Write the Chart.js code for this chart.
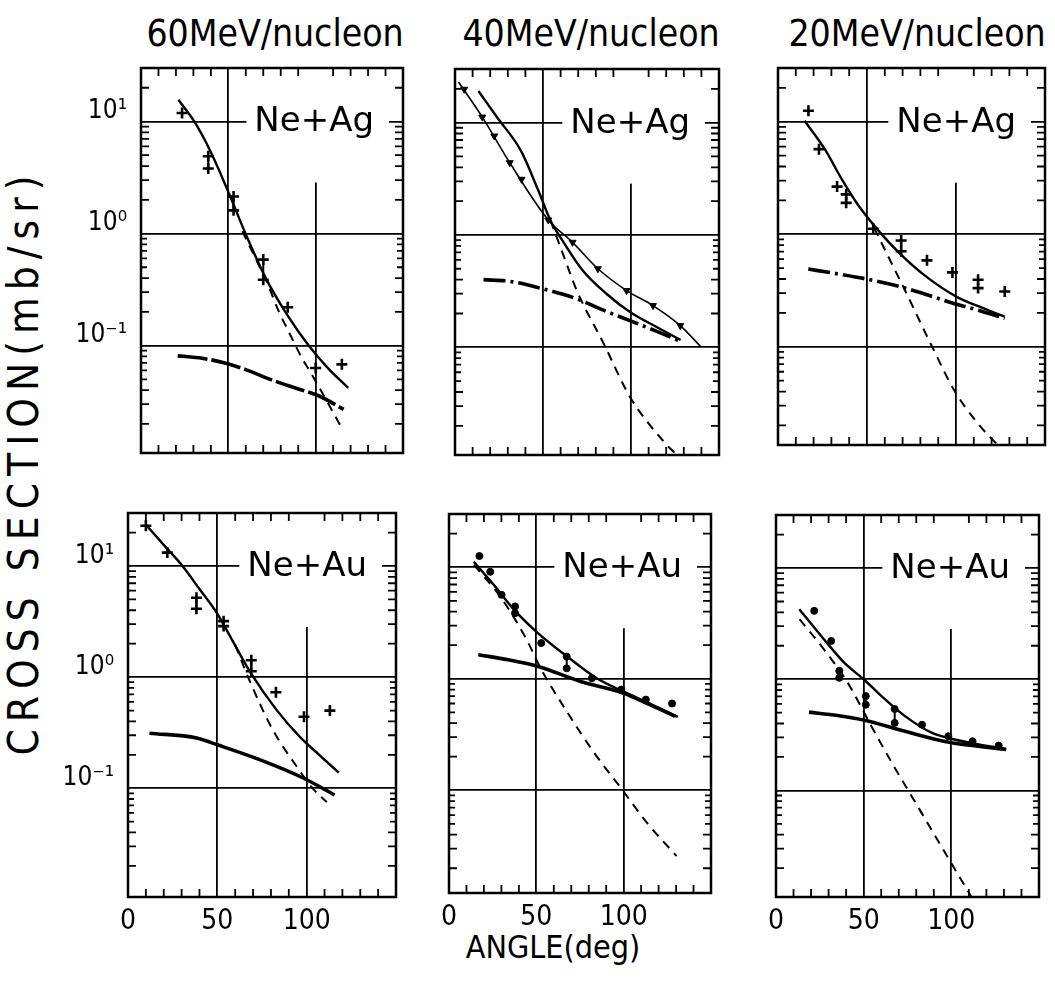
<!DOCTYPE html>
<html>
<head>
<meta charset="utf-8">
<script src="https://cdn.jsdelivr.net/npm/chart.js@4.4.1/dist/chart.umd.min.js"></script>
<style>
  body { margin: 0; background: #fff; }
  #wrap { position: relative; width: 1055px; height: 981px; overflow: hidden; background: #fff; }
  .txt { position: absolute; font-family: "DejaVu Sans Condensed", "DejaVu Sans", sans-serif; color: #000; white-space: nowrap; line-height: 1; text-align: center; }
  canvas { position: absolute; }
</style>
</head>
<body>
<div id="wrap">
  <div class="txt" style="left:75px;top:15px;width:400px;font-size:37px">60MeV/nucleon</div>
  <div class="txt" style="left:391px;top:15px;width:400px;font-size:37px">40MeV/nucleon</div>
  <div class="txt" style="left:717px;top:15px;width:400px;font-size:37px">20MeV/nucleon</div>
  <div class="txt" style="left:-376px;top:441px;width:800px;height:42px;line-height:42px;font-size:42px;letter-spacing:7px;transform:rotate(-90deg)">CROSS SECTION(mb/sr)</div>
  <div class="txt" style="left:353px;top:931px;width:400px;font-size:32px">ANGLE(deg)</div>
</div>
<script>
// angle (deg), cross section (mb/sr)
const ag60Points = [[23.5, 11.9], [38.5, 4.9], [38.5, 3.8], [53, 2.14], [53, 1.61], [70, 0.585], [70, 0.387], [84, 0.22], [100, 0.063], [115, 0.068]];
const ag60Total = [[21.4, 15.6], [30.5, 10], [39.8, 5.4], [51.1, 2.14], [59.8, 1.0], [71.8, 0.39], [84, 0.185], [96, 0.1], [107, 0.063], [118.6, 0.042]];
const ag60Dashed = [[58, 1.05], [66, 0.58], [72, 0.37], [79, 0.2], [86, 0.12], [92, 0.078], [97, 0.058], [105, 0.035], [114, 0.0195]];
const ag60Lower = [[21, 0.081], [35, 0.077], [48, 0.07], [60, 0.061], [74, 0.05], [88, 0.042], [102, 0.0355], [116, 0.027]];

const ag40Points = [[5.2, 19.8], [15.5, 11.2], [22.3, 7.6], [31.1, 4.4], [37.8, 3.13], [53, 1.36], [66.8, 0.86], [81.2, 0.5], [97.5, 0.32], [112.5, 0.235], [128, 0.156]];
const ag40Thin = [[2, 23], [15.5, 11.2], [31.1, 4.4], [53, 1.36], [66.8, 0.86], [81.2, 0.5], [97.5, 0.32], [112.5, 0.235], [128, 0.156], [140, 0.1]];
const ag40Total = [[13.3, 19.1], [24, 11.1], [37.5, 5.6], [47.4, 2.47], [54.3, 1.34], [61.1, 0.89], [72.7, 0.48], [86.2, 0.298], [99.6, 0.205], [114.8, 0.151], [128.2, 0.116]];
const ag40Dashed = [[54.3, 1.34], [61, 0.7], [69.2, 0.32], [84.6, 0.107], [99.5, 0.036], [119.8, 0.0138], [125.5, 0.0112]];
const ag40Lower = [[16.2, 0.40], [31.4, 0.386], [50.3, 0.33], [69.2, 0.27], [84, 0.215], [99.7, 0.172], [114, 0.14], [128.2, 0.113]];

const ag20Points = [[17.1, 12.5], [23, 5.7], [33.2, 2.65], [38.3, 2.26], [38.3, 1.9], [53.5, 1.12], [69.2, 0.88], [69.2, 0.705], [83.7, 0.586], [98, 0.458], [112.4, 0.394], [112.4, 0.332], [127.4, 0.31]];
const ag20Total = [[14.9, 10.2], [26.3, 5.7], [35.9, 3.07], [45.4, 1.78], [56.8, 1.06], [68.2, 0.68], [83.3, 0.42], [100.2, 0.279], [115.2, 0.22], [127.3, 0.185]];
const ag20Dashed = [[54, 1.14], [62, 0.63], [70.3, 0.343], [86.6, 0.1], [99, 0.041], [112.4, 0.0207], [124.6, 0.0128]];
const ag20Lower = [[17, 0.49], [33, 0.446], [49.7, 0.4], [68.4, 0.343], [98.4, 0.244], [113, 0.21], [127.4, 0.179]];

const au60Points = [[10, 23], [22, 13.2], [38.3, 5.18], [38.3, 4.12], [53.5, 3.19], [53.5, 2.88], [69, 1.42], [69, 1.13], [82.8, 0.73], [98.5, 0.44], [113, 0.5]];
const au60Total = [[9.7, 23.8], [20, 15.5], [30.5, 10], [40, 6.2], [49.6, 3.8], [58, 2.2], [68.7, 1.09], [83, 0.51], [96.2, 0.29], [107, 0.2], [118, 0.138]];
const au60Dashed = [[60, 1.95], [68.6, 0.886], [81, 0.336], [94.4, 0.157], [104, 0.097], [111.3, 0.075]];
const au60Lower = [[12, 0.313], [38.5, 0.283], [50, 0.246], [74, 0.18], [98.4, 0.123], [115.6, 0.087]];

const au40Points = [[17.4, 12.6], [23.6, 9.1], [30.1, 5.65], [37.8, 4.45], [37.8, 3.87], [52.8, 2.09], [67.4, 1.58], [67.4, 1.24], [81.8, 1.01], [98.6, 0.8], [112.7, 0.65], [127.7, 0.6]];
const au40Total = [[14.2, 11.2], [26.5, 6.7], [37.3, 4.15], [50.9, 2.57], [67.7, 1.58], [84.6, 1.01], [99.6, 0.77], [115, 0.6], [131, 0.455]];
const au40Dashed = [[14.3, 10.5], [29.3, 5.46], [43.5, 2.39], [53, 1.2], [68.1, 0.49], [83.2, 0.216], [99.2, 0.101], [113.4, 0.051], [130.3, 0.0257]];
const au40Lower = [[16.8, 1.64], [33.9, 1.48], [51, 1.29], [75.3, 0.946], [99.7, 0.745], [115, 0.585], [129.4, 0.46]];

const au20Points = [[21.8, 4.12], [31.5, 2.21], [36.1, 1.19], [36.1, 1.03], [51.2, 0.705], [51.2, 0.59], [67.7, 0.54], [67.7, 0.405], [83.3, 0.39], [98.3, 0.307], [112.1, 0.277], [127, 0.253]];
const au20Total = [[13.3, 4.26], [27.3, 2.29], [38.9, 1.41], [50, 1.0], [60.2, 0.705], [73.6, 0.466], [89, 0.329], [100.6, 0.29], [115, 0.26], [131.3, 0.236]];
const au20Dashed = [[13.4, 3.47], [27.3, 1.86], [40.9, 0.93], [54.4, 0.378], [66.1, 0.177], [79.7, 0.077], [100.1, 0.022], [108, 0.0136], [111.5, 0.011]];
const au20Lower = [[18.8, 0.506], [35, 0.472], [50.5, 0.428], [73.6, 0.34], [98.6, 0.271], [115, 0.25], [131.3, 0.233]];

const systems = ["Ne+Ag", "Ne+Au"];
const xTicks = [0, 50, 100];
const yTicks = [0.1, 1, 10];
const yTickLabels = ["10\u207B\u00B9", "10\u2070", "10\u00B9"];
const xMinorTicks = [10, 20, 30, 40, 60, 70, 80, 90, 110, 120, 130, 140];
const yMinorTicks = [0.02, 0.03, 0.04, 0.05, 0.06, 0.07, 0.08, 0.09, 0.2, 0.3, 0.4, 0.5, 0.6, 0.7, 0.8, 0.9, 2, 3, 4, 5, 6, 7, 8, 9, 20];

const FONT = '"DejaVu Sans Condensed", "DejaVu Sans", sans-serif';

// box = [left, top, right, bottom] of the plot frame on the page
const panels = [
  { row: 0, col: 0, box: [141, 68, 403, 453], yMin: 0.011, label: systems[0], marker: "cross", pts: ag60Points, total: ag60Total, dashed: ag60Dashed, lower: ag60Lower, lowerDash: [30, 4] },
  { row: 0, col: 1, box: [455, 69, 719, 455], yMin: 0.011, label: systems[0], marker: "tri", pts: ag40Points, thin: ag40Thin, total: ag40Total, dashed: ag40Dashed, lower: ag40Lower, lowerDash: [22, 5, 3, 5] },
  { row: 0, col: 2, box: [778, 68, 1045, 445], yMin: 0.0134, label: systems[0], marker: "cross", pts: ag20Points, total: ag20Total, dashed: ag20Dashed, lower: ag20Lower, lowerDash: [22, 5, 3, 5] },
  { row: 1, col: 0, box: [128, 513, 396, 897], yMin: 0.0105, label: systems[1], marker: "cross", pts: au60Points, total: au60Total, dashed: au60Dashed, lower: au60Lower },
  { row: 1, col: 1, box: [449, 514, 711, 893], yMin: 0.012, label: systems[1], marker: "dot", pts: au40Points, total: au40Total, dashed: au40Dashed, lower: au40Lower },
  { row: 1, col: 2, box: [776, 515, 1039, 897], yMin: 0.011, label: systems[1], marker: "dot", pts: au20Points, total: au20Total, dashed: au20Dashed, lower: au20Lower }
];

const toXY = arr => arr.map(([x, y]) => ({ x, y }));

// vertical bars between repeated measurements at the same angle
function errBars(points) {
  const out = [];
  for (let i = 1; i < points.length; i++) {
    if (points[i][0] === points[i - 1][0]) {
      out.push({ x: points[i][0], y: points[i - 1][1] }, { x: points[i][0], y: points[i][1] }, { x: points[i][0], y: null });
    }
  }
  return out;
}

const curve = (arr, extra) => Object.assign({
  data: toXY(arr),
  borderColor: "#000",
  pointRadius: 0,
  tension: 0.4,
  cubicInterpolationMode: "monotone",
  fill: false
}, extra);

const markerStyles = {
  cross: { pointStyle: "cross", pointRadius: 5.5, pointBorderWidth: 2.6 },
  tri: { pointStyle: "triangle", pointRotation: 180, pointRadius: 4, pointBorderWidth: 1 },
  dot: { pointStyle: "circle", pointRadius: 3.5, pointBorderWidth: 1 }
};

function buildSets(p) {
  const sets = [];
  sets.push(Object.assign({
    data: toXY(p.pts),
    showLine: false,
    pointBorderColor: "#000",
    pointBackgroundColor: "#000"
  }, markerStyles[p.marker]));
  sets.push({ data: errBars(p.pts), borderColor: "#000", borderWidth: 2, pointRadius: 0, spanGaps: false });
  if (p.thin) sets.push(curve(p.thin, { borderWidth: 1.6 }));
  sets.push(curve(p.total, { borderWidth: 2.4 }));
  sets.push(curve(p.dashed, { borderWidth: 2, borderDash: [9, 7] }));
  sets.push(curve(p.lower, { borderWidth: 3.6, borderDash: p.lowerDash || [] }));
  return sets;
}

// frame, inward minor ticks and the reaction label sitting on the 10^1 line
const frame = {
  id: "frame",
  beforeDatasetsDraw(chart) {
    const { ctx, chartArea: a, scales: { x, y } } = chart;
    const label = chart.options.plugins.frame.label;
    ctx.save();
    ctx.font = '34px "DejaVu Sans", sans-serif';
    const w = ctx.measureText(label).width;
    const tx = a.right - 29 - w;
    const ty = y.getPixelForValue(10);
    ctx.fillStyle = "#fff";
    ctx.fillRect(tx - 8, a.top + 1, w + 23, ty + 60 - a.top);
    ctx.fillStyle = "#000";
    ctx.textBaseline = "alphabetic";
    ctx.fillText(label, tx, ty + 10);

    ctx.strokeStyle = "#000";
    ctx.lineWidth = 1.8;
    ctx.beginPath();
    yMinorTicks.forEach(v => {
      const py = y.getPixelForValue(v);
      if (py < a.top || py > a.bottom) return;
      const len = v % 1 === 0 || [2, 3, 4, 0.2, 0.3, 0.4, 0.02, 0.03, 0.04].includes(v) ? 8 : 6;
      ctx.moveTo(a.left, py); ctx.lineTo(a.left + len, py);
      ctx.moveTo(a.right, py); ctx.lineTo(a.right - len, py);
    });
    xMinorTicks.forEach(v => {
      const px = x.getPixelForValue(v);
      ctx.moveTo(px, a.top); ctx.lineTo(px, a.top + 8);
      ctx.moveTo(px, a.bottom); ctx.lineTo(px, a.bottom - 8);
    });
    ctx.stroke();
    ctx.lineWidth = 2.5;
    ctx.strokeRect(a.left, a.top, a.right - a.left, a.bottom - a.top);
    ctx.restore();
  }
};

const wrap = document.getElementById("wrap");

panels.forEach(p => {
  const padL = p.col === 0 ? 80 : 14, padR = 10, padT = 10, padB = p.row === 1 ? 50 : 10;
  const [L, T, R, B] = p.box;
  const cv = document.createElement("canvas");
  cv.width = R - L + padL + padR;
  cv.height = B - T + padT + padB;
  cv.style.left = (L - padL) + "px";
  cv.style.top = (T - padT) + "px";
  wrap.appendChild(cv);

  new Chart(cv, {
    type: "line",
    data: { datasets: buildSets(p) },
    options: {
      responsive: false,
      animation: false,
      devicePixelRatio: 1,
      layout: { autoPadding: false, padding: { left: 0, right: padR, top: padT, bottom: 0 } },
      plugins: { legend: { display: false }, tooltip: { enabled: false }, frame: { label: p.label } },
      scales: {
        x: {
          type: "linear", min: 0, max: 150, bounds: "data",
          afterBuildTicks: s => { s.ticks = xTicks.map(v => ({ value: v })); },
          afterFit: s => { s.height = padB; s.paddingLeft = 0; s.paddingRight = 0; },
          grid: { color: "#000", lineWidth: 1.8, drawTicks: false },
          border: { display: false },
          ticks: { display: p.row === 1, autoSkip: false, maxRotation: 0, padding: 8, color: "#000", font: { family: FONT, size: 28 }, callback: v => String(v) }
        },
        y: {
          type: "logarithmic", min: p.yMin, max: 30, bounds: "data",
          afterBuildTicks: s => { s.ticks = yTicks.map(v => ({ value: v })); },
          afterFit: s => { s.width = padL; s.paddingTop = 0; s.paddingBottom = 0; },
          grid: { color: "#000", lineWidth: 1.8, drawTicks: false },
          border: { display: false },
          ticks: { display: p.col === 0, autoSkip: false, padding: 14, labelOffset: -10, color: "#000", font: { family: FONT, size: 26 }, callback: v => yTickLabels[yTicks.indexOf(v)] }
        }
      }
    },
    plugins: [frame]
  });
});
</script>
</body>
</html>
